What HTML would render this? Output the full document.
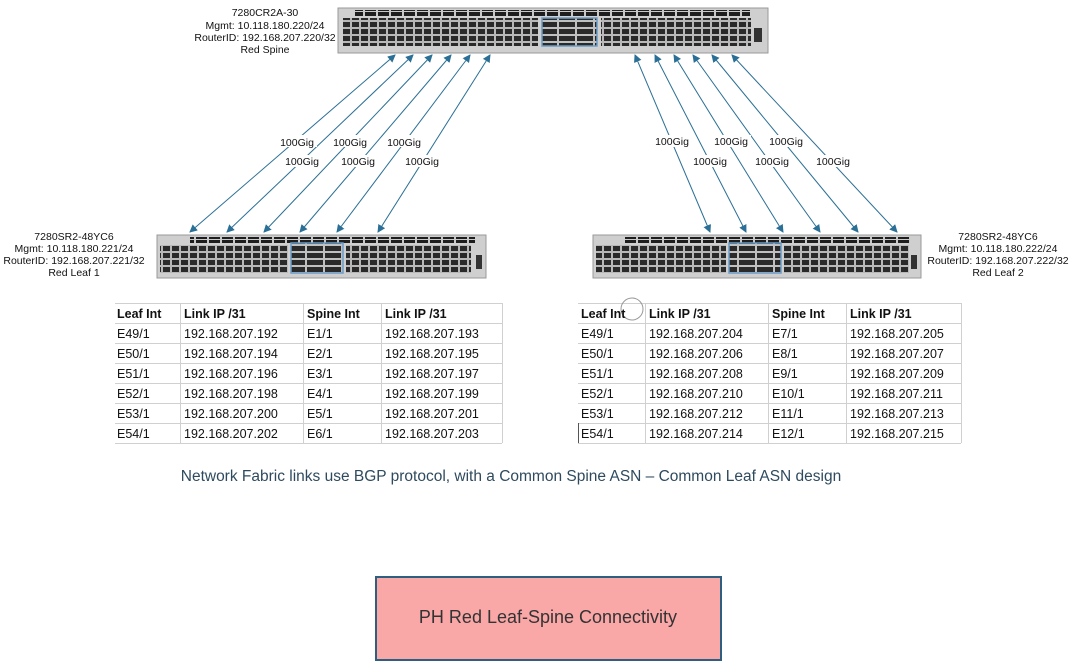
<!DOCTYPE html>
<html><head><meta charset="utf-8"><style>
html,body{margin:0;padding:0;background:#fff;}
svg{display:block;font-family:"Liberation Sans",sans-serif;}
</style></head><body>
<svg width="1070" height="662" viewBox="0 0 1070 662" xmlns="http://www.w3.org/2000/svg">
<defs>
<pattern id="ports" x="0" y="0" width="9" height="14" patternUnits="userSpaceOnUse">
<rect width="9" height="14" fill="#b8b8b8"/><rect x="1" y="1" width="7" height="5" fill="#2a2a2a"/><rect x="1" y="8" width="7" height="5" fill="#2a2a2a"/>
</pattern>
<pattern id="qports" x="0" y="0" width="18" height="14" patternUnits="userSpaceOnUse">
<rect width="18" height="14" fill="#c0c0c0"/><rect x="1" y="1" width="16" height="5" fill="#2a2a2a"/><rect x="1" y="8" width="16" height="5" fill="#2a2a2a"/>
</pattern>
<pattern id="top" x="0" y="0" width="13" height="6" patternUnits="userSpaceOnUse">
<rect width="13" height="6" fill="#c8c8c8"/><rect x="1" y="0" width="11" height="5" fill="#1e1e1e"/>
</pattern>
<marker id="ah" markerWidth="8" markerHeight="8" refX="7" refY="4" orient="auto-start-reverse" markerUnits="userSpaceOnUse"><path d="M0,0 L8,4 L0,8 z" fill="#2a6f95"/></marker>
</defs>

<g>
<rect x="338" y="8" width="430" height="45" fill="#cfcfcf" stroke="#999"/>
<rect x="355" y="10" width="395" height="6" fill="url(#top)"/>
<rect x="343" y="18" width="195" height="28" fill="url(#ports)"/>
<rect x="542" y="18" width="55" height="28" fill="url(#qports)" stroke="#6a9cc8" stroke-width="1.5"/>
<rect x="601" y="18" width="150" height="28" fill="url(#ports)"/>
<rect x="754" y="28" width="8" height="14" fill="#333"/>
</g>
<g font-size="10.5" fill="#111" text-anchor="middle">
<text x="265" y="16">7280CR2A-30</text>
<text x="265" y="29">Mgmt: 10.118.180.220/24</text>
<text x="265" y="41">RouterID: 192.168.207.220/32</text>
<text x="265" y="53">Red Spine</text>
</g>

<g>
<rect x="157" y="235" width="329" height="43" fill="#cfcfcf" stroke="#999"/>
<rect x="190" y="237" width="285" height="6" fill="url(#top)"/>
<rect x="160" y="245" width="128" height="28" fill="url(#ports)"/>
<rect x="291" y="243" width="52" height="30" fill="url(#qports)" stroke="#6a9cc8" stroke-width="1.5"/>
<rect x="346" y="245" width="125" height="28" fill="url(#ports)"/>
<rect x="476" y="255" width="6" height="14" fill="#333"/>
</g>
<g font-size="10.5" fill="#111" text-anchor="middle">
<text x="74" y="240">7280SR2-48YC6</text>
<text x="74" y="252">Mgmt: 10.118.180.221/24</text>
<text x="74" y="264">RouterID: 192.168.207.221/32</text>
<text x="74" y="276">Red Leaf 1</text>
</g>

<g>
<rect x="593" y="235" width="328" height="43" fill="#cfcfcf" stroke="#999"/>
<rect x="625" y="237" width="285" height="6" fill="url(#top)"/>
<rect x="596" y="245" width="130" height="28" fill="url(#ports)"/>
<rect x="729" y="243" width="52" height="30" fill="url(#qports)" stroke="#6a9cc8" stroke-width="1.5"/>
<rect x="784" y="245" width="125" height="28" fill="url(#ports)"/>
<rect x="911" y="255" width="6" height="14" fill="#333"/>
</g>
<g font-size="10.5" fill="#111" text-anchor="middle">
<text x="998" y="240">7280SR2-48YC6</text>
<text x="998" y="252">Mgmt: 10.118.180.222/24</text>
<text x="998" y="264">RouterID: 192.168.207.222/32</text>
<text x="998" y="276">Red Leaf 2</text>
</g>

<g stroke="#2a6f95" stroke-width="1" marker-start="url(#ah)" marker-end="url(#ah)">
<line x1="395" y1="55" x2="190" y2="232"/>
<line x1="413" y1="55" x2="227" y2="232"/>
<line x1="432" y1="55" x2="264" y2="232"/>
<line x1="451" y1="55" x2="300" y2="232"/>
<line x1="470" y1="55" x2="337" y2="232"/>
<line x1="490" y1="55" x2="378" y2="232"/>
<line x1="635" y1="55" x2="710" y2="232"/>
<line x1="655" y1="55" x2="746" y2="232"/>
<line x1="674" y1="55" x2="783" y2="232"/>
<line x1="693" y1="55" x2="820" y2="232"/>
<line x1="712" y1="55" x2="858" y2="232"/>
<line x1="732" y1="55" x2="897" y2="232"/>
</g>
<g font-size="10.5" fill="#111" text-anchor="middle">
<rect x="277" y="135" width="40" height="12" fill="#fff"/><text x="297" y="146">100Gig</text>
<rect x="330" y="135" width="40" height="12" fill="#fff"/><text x="350" y="146">100Gig</text>
<rect x="384" y="135" width="40" height="12" fill="#fff"/><text x="404" y="146">100Gig</text>
<rect x="282" y="155" width="40" height="12" fill="#fff"/><text x="302" y="165">100Gig</text>
<rect x="338" y="155" width="40" height="12" fill="#fff"/><text x="358" y="165">100Gig</text>
<rect x="402" y="155" width="40" height="12" fill="#fff"/><text x="422" y="165">100Gig</text>
<rect x="652" y="135" width="40" height="12" fill="#fff"/><text x="672" y="145">100Gig</text>
<rect x="711" y="135" width="40" height="12" fill="#fff"/><text x="731" y="145">100Gig</text>
<rect x="766" y="135" width="40" height="12" fill="#fff"/><text x="786" y="145">100Gig</text>
<rect x="690" y="155" width="40" height="12" fill="#fff"/><text x="710" y="165">100Gig</text>
<rect x="752" y="155" width="40" height="12" fill="#fff"/><text x="772" y="165">100Gig</text>
<rect x="813" y="155" width="40" height="12" fill="#fff"/><text x="833" y="165">100Gig</text>
</g>

<g stroke="#d0d0d0" stroke-width="1">
<line x1="115" y1="303.5" x2="502" y2="303.5"/>
<line x1="115" y1="323.5" x2="502" y2="323.5"/><line x1="115" y1="343.5" x2="502" y2="343.5"/>
<line x1="115" y1="363.5" x2="502" y2="363.5"/><line x1="115" y1="383.5" x2="502" y2="383.5"/>
<line x1="115" y1="403.5" x2="502" y2="403.5"/><line x1="115" y1="423.5" x2="502" y2="423.5"/>
<line x1="115" y1="443.5" x2="502" y2="443.5"/>
<line x1="180.5" y1="303" x2="180.5" y2="443"/><line x1="303.5" y1="303" x2="303.5" y2="443"/>
<line x1="381.5" y1="303" x2="381.5" y2="443"/><line x1="502.5" y1="303" x2="502.5" y2="443"/>
</g>
<g font-size="12.5" fill="#111">
<g font-weight="bold"><text x="117" y="318">Leaf Int</text><text x="184" y="318">Link IP /31</text><text x="307" y="318">Spine Int</text><text x="385" y="318">Link IP /31</text></g>
<text x="117" y="338">E49/1</text><text x="184" y="338">192.168.207.192</text><text x="307" y="338">E1/1</text><text x="385" y="338">192.168.207.193</text>
<text x="117" y="358">E50/1</text><text x="184" y="358">192.168.207.194</text><text x="307" y="358">E2/1</text><text x="385" y="358">192.168.207.195</text>
<text x="117" y="378">E51/1</text><text x="184" y="378">192.168.207.196</text><text x="307" y="378">E3/1</text><text x="385" y="378">192.168.207.197</text>
<text x="117" y="398">E52/1</text><text x="184" y="398">192.168.207.198</text><text x="307" y="398">E4/1</text><text x="385" y="398">192.168.207.199</text>
<text x="117" y="418">E53/1</text><text x="184" y="418">192.168.207.200</text><text x="307" y="418">E5/1</text><text x="385" y="418">192.168.207.201</text>
<text x="117" y="438">E54/1</text><text x="184" y="438">192.168.207.202</text><text x="307" y="438">E6/1</text><text x="385" y="438">192.168.207.203</text>
</g>

<g stroke="#d0d0d0" stroke-width="1">
<line x1="578" y1="303.5" x2="961" y2="303.5"/>
<line x1="578" y1="323.5" x2="961" y2="323.5"/><line x1="578" y1="343.5" x2="961" y2="343.5"/>
<line x1="578" y1="363.5" x2="961" y2="363.5"/><line x1="578" y1="383.5" x2="961" y2="383.5"/>
<line x1="578" y1="403.5" x2="961" y2="403.5"/><line x1="578" y1="423.5" x2="961" y2="423.5"/>
<line x1="578" y1="443.5" x2="961" y2="443.5"/>
<line x1="645.5" y1="303" x2="645.5" y2="443"/><line x1="768.5" y1="303" x2="768.5" y2="443"/>
<line x1="846.5" y1="303" x2="846.5" y2="443"/><line x1="961.5" y1="303" x2="961.5" y2="443"/>
</g>
<line x1="578.5" y1="423" x2="578.5" y2="443" stroke="#555"/>
<circle cx="632" cy="309" r="11" fill="none" stroke="#999"/>
<g font-size="12.5" fill="#111">
<g font-weight="bold"><text x="581" y="318">Leaf Int</text><text x="649" y="318">Link IP /31</text><text x="772" y="318">Spine Int</text><text x="850" y="318">Link IP /31</text></g>
<text x="581" y="338">E49/1</text><text x="649" y="338">192.168.207.204</text><text x="772" y="338">E7/1</text><text x="850" y="338">192.168.207.205</text>
<text x="581" y="358">E50/1</text><text x="649" y="358">192.168.207.206</text><text x="772" y="358">E8/1</text><text x="850" y="358">192.168.207.207</text>
<text x="581" y="378">E51/1</text><text x="649" y="378">192.168.207.208</text><text x="772" y="378">E9/1</text><text x="850" y="378">192.168.207.209</text>
<text x="581" y="398">E52/1</text><text x="649" y="398">192.168.207.210</text><text x="772" y="398">E10/1</text><text x="850" y="398">192.168.207.211</text>
<text x="581" y="418">E53/1</text><text x="649" y="418">192.168.207.212</text><text x="772" y="418">E11/1</text><text x="850" y="418">192.168.207.213</text>
<text x="581" y="438">E54/1</text><text x="649" y="438">192.168.207.214</text><text x="772" y="438">E12/1</text><text x="850" y="438">192.168.207.215</text>
</g>

<text x="511" y="481" font-size="15.5" fill="#2e4a5e" text-anchor="middle">Network Fabric links use BGP protocol, with a Common Spine ASN – Common Leaf ASN design</text>

<rect x="376" y="577" width="345" height="83" fill="#f9a7a7" stroke="#2f5f80" stroke-width="2"/>
<text x="548" y="623" font-size="18" fill="#333" text-anchor="middle">PH Red Leaf-Spine Connectivity</text>
</svg>
</body></html>
